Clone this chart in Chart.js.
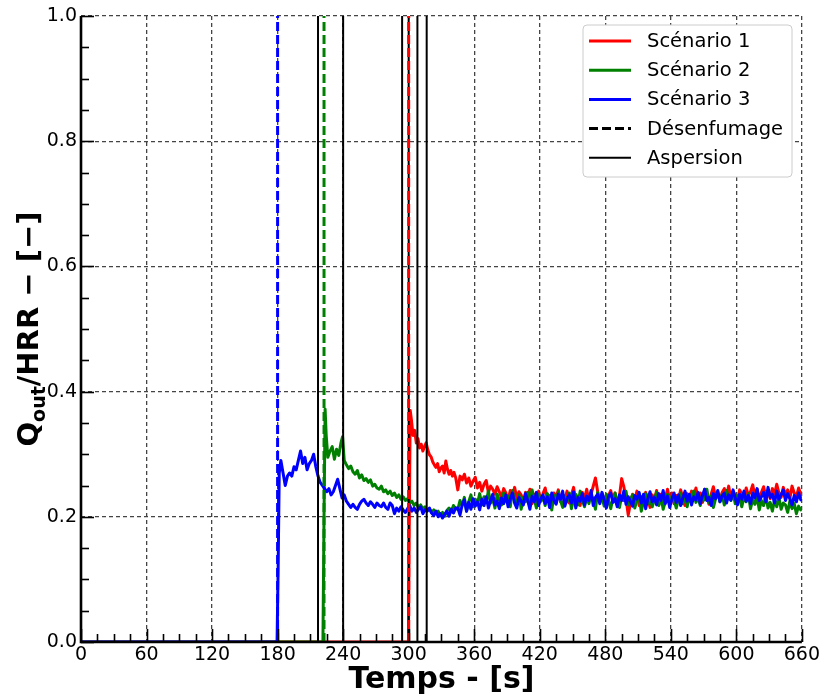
<!DOCTYPE html>
<html>
<head>
<meta charset="utf-8">
<script src="https://cdn.jsdelivr.net/npm/chart.js@4.4.0/dist/chart.umd.min.js"></script>
<style>
html,body{margin:0;padding:0;background:#ffffff;}
#wrap{width:822px;height:698px;position:relative;}
</style>
</head>
<body>
<div id="wrap"><canvas id="c" width="822" height="698"></canvas></div>
<script>
// ---------- DATA ----------
const seriesNames = ['Scénario 1', 'Scénario 2', 'Scénario 3'];
const seriesColors = ['#ff0000', '#008000', '#0000ff'];
const xMajorTicks = [0, 60, 120, 180, 240, 300, 360, 420, 480, 540, 600, 660];
const yMajorTicks = [0.0, 0.2, 0.4, 0.6, 0.8, 1.0];
const xTitle = 'Temps - [s]';

// Scenario 1 (red) onset
const red_t = [0, 299.8, 300.6, 301.4, 302.5, 304, 305.5, 307, 308.5, 310, 311.5, 313, 314.5, 316, 317.5, 319, 320.5, 322, 323.5, 325, 326.5, 328, 329.5, 331, 332.5, 334, 335.5, 337, 338.5, 340, 341.5, 343];
const red_v = [0, 0, 0.2, 0.37, 0.355, 0.33, 0.338, 0.318, 0.325, 0.31, 0.316, 0.305, 0.312, 0.318, 0.307, 0.299, 0.296, 0.288, 0.283, 0.279, 0.285, 0.272, 0.278, 0.281, 0.27, 0.289, 0.276, 0.268, 0.274, 0.265, 0.271, 0.263];

// Scenario 2 (green) onset
const green_t = [0, 221.5, 222.5, 223.5, 224.5, 226, 228, 230, 232, 234, 236, 238, 239.5, 241, 243, 245, 247, 249, 251, 253, 255, 257, 259, 261, 263, 265, 267, 269, 271, 273, 275, 277, 279, 281, 283, 285, 287, 289, 291, 293, 295, 297, 299, 301, 303, 305, 307, 309, 311, 313, 315, 317, 319, 321, 323, 325, 327, 329, 331, 333, 335, 337, 339, 341, 343];
const green_v = [0, 0, 0.2, 0.372, 0.33, 0.295, 0.305, 0.312, 0.292, 0.308, 0.298, 0.318, 0.328, 0.29, 0.283, 0.277, 0.281, 0.272, 0.268, 0.274, 0.262, 0.267, 0.258, 0.261, 0.255, 0.259, 0.249, 0.252, 0.246, 0.244, 0.249, 0.24, 0.243, 0.237, 0.241, 0.234, 0.238, 0.231, 0.235, 0.228, 0.232, 0.226, 0.229, 0.222, 0.225, 0.218, 0.222, 0.215, 0.219, 0.212, 0.216, 0.21, 0.213, 0.207, 0.211, 0.205, 0.209, 0.203, 0.207, 0.201, 0.21, 0.214, 0.208, 0.218, 0.213];

// Scenario 3 (blue) onset
const blue_t = [0, 179.5, 180.5, 181.5, 183, 185, 187, 189, 191, 193, 195, 197, 199, 201, 203, 205, 207, 209, 211, 213, 215, 217, 219, 221, 223, 225, 227, 229, 231, 233, 235, 237, 239, 241, 243, 245, 247, 249, 251, 253, 255, 257, 259, 261, 263, 265, 267, 269, 271, 273, 275, 277, 279, 281, 283, 285, 287, 289, 291, 293, 295, 297, 299, 301, 303, 305, 307, 309, 311, 313, 315, 317, 319, 321, 323, 325, 327, 329, 331, 333, 335, 337, 339, 341, 343];
const blue_v = [0, 0, 0.12, 0.27, 0.29, 0.27, 0.25, 0.265, 0.27, 0.265, 0.28, 0.275, 0.29, 0.305, 0.285, 0.295, 0.275, 0.285, 0.29, 0.30, 0.28, 0.265, 0.255, 0.25, 0.245, 0.24, 0.245, 0.235, 0.24, 0.25, 0.26, 0.245, 0.23, 0.235, 0.225, 0.22, 0.215, 0.22, 0.215, 0.212, 0.22, 0.225, 0.228, 0.222, 0.218, 0.224, 0.22, 0.215, 0.222, 0.218, 0.216, 0.222, 0.215, 0.212, 0.222, 0.218, 0.205, 0.214, 0.209, 0.216, 0.211, 0.207, 0.213, 0.218, 0.209, 0.214, 0.207, 0.212, 0.216, 0.205, 0.211, 0.209, 0.214, 0.206, 0.202, 0.209, 0.2, 0.205, 0.198, 0.204, 0.209, 0.201, 0.212, 0.206, 0.214];

// Shared tail time grid (s)
const tail_t = [
  345, 347, 349, 351, 353, 355, 357, 359, 361, 363,
  365, 367, 369, 371, 373, 375, 377, 379, 381, 383,
  385, 387, 389, 391, 393, 395, 397, 399, 401, 403,
  405, 407, 409, 411, 413, 415, 417, 419, 421, 423,
  425, 427, 429, 431, 433, 435, 437, 439, 441, 443,
  445, 447, 449, 451, 453, 455, 457, 459, 461, 463,
  465, 467, 469, 471, 473, 475, 477, 479, 481, 483,
  485, 487, 489, 491, 493, 495, 497, 499, 501, 503,
  505, 507, 509, 511, 513, 515, 517, 519, 521, 523,
  525, 527, 529, 531, 533, 535, 537, 539, 541, 543,
  545, 547, 549, 551, 553, 555, 557, 559, 561, 563,
  565, 567, 569, 571, 573, 575, 577, 579, 581, 583,
  585, 587, 589, 591, 593, 595, 597, 599, 601, 603,
  605, 607, 609, 611, 613, 615, 617, 619, 621, 623,
  625, 627, 629, 631, 633, 635, 637, 639, 641, 643,
  645, 647, 649, 651, 653, 655, 657, 659, 660];

const red_tail = [
  0.243, 0.265, 0.259, 0.268, 0.254, 0.262, 0.249, 0.257, 0.263, 0.246,
  0.255, 0.241, 0.252, 0.258, 0.239, 0.249, 0.244, 0.236, 0.248, 0.24,
  0.231, 0.245, 0.238, 0.226, 0.242, 0.233, 0.247, 0.229, 0.24, 0.235,
  0.224, 0.239, 0.232, 0.244, 0.221, 0.236, 0.228, 0.241, 0.225, 0.237,
  0.246, 0.227, 0.234, 0.219, 0.238, 0.231, 0.243, 0.224, 0.236, 0.228,
  0.241, 0.222, 0.235, 0.247, 0.226, 0.233, 0.218, 0.239, 0.229, 0.244,
  0.225, 0.236, 0.249, 0.262, 0.241, 0.223, 0.237, 0.228, 0.216, 0.234,
  0.242, 0.226, 0.238, 0.219, 0.233, 0.261, 0.248, 0.229, 0.203, 0.221,
  0.236, 0.227, 0.241, 0.218, 0.232, 0.224, 0.239, 0.229, 0.215, 0.235,
  0.228, 0.242, 0.222, 0.236, 0.219, 0.231, 0.244, 0.226, 0.238, 0.221,
  0.234, 0.227, 0.243, 0.23, 0.218, 0.237, 0.225, 0.241, 0.232, 0.246,
  0.229, 0.238, 0.223, 0.244, 0.233, 0.22, 0.236, 0.248, 0.231, 0.24,
  0.226, 0.239, 0.245, 0.232, 0.249, 0.228, 0.241, 0.235, 0.222, 0.243,
  0.237, 0.229, 0.246, 0.234, 0.24, 0.251, 0.232, 0.244, 0.227, 0.239,
  0.248, 0.233, 0.242, 0.229, 0.245, 0.236, 0.252, 0.238, 0.231, 0.247,
  0.235, 0.243, 0.229, 0.249, 0.238, 0.232, 0.246, 0.236, 0.241];

const green_tail = [
  0.212, 0.226, 0.218, 0.231, 0.209, 0.224, 0.235, 0.216, 0.228, 0.221,
  0.237, 0.219, 0.232, 0.224, 0.241, 0.222, 0.229, 0.214, 0.236, 0.227,
  0.219, 0.238, 0.225, 0.233, 0.216, 0.242, 0.228, 0.221, 0.235, 0.212,
  0.231, 0.224, 0.239, 0.217, 0.243, 0.228, 0.214, 0.236, 0.225, 0.232,
  0.218, 0.237, 0.229, 0.211, 0.234, 0.222, 0.24, 0.226, 0.215, 0.233,
  0.224, 0.238, 0.213, 0.229, 0.236, 0.219, 0.241, 0.227, 0.216, 0.232,
  0.221, 0.235, 0.228, 0.212, 0.239, 0.224, 0.231, 0.217, 0.236, 0.226,
  0.213, 0.23, 0.238, 0.222, 0.215, 0.233, 0.226, 0.241, 0.219, 0.228,
  0.235, 0.214, 0.227, 0.232, 0.209, 0.224, 0.237, 0.221, 0.23, 0.216,
  0.228, 0.239, 0.218, 0.231, 0.212, 0.225, 0.236, 0.22, 0.233, 0.227,
  0.214, 0.229, 0.238, 0.221, 0.232, 0.216, 0.235, 0.226, 0.241, 0.223,
  0.231, 0.218, 0.237, 0.227, 0.244, 0.222, 0.233, 0.215, 0.229, 0.238,
  0.224, 0.236, 0.219, 0.242, 0.23, 0.226, 0.239, 0.221, 0.234, 0.228,
  0.216, 0.231, 0.224, 0.237, 0.213, 0.228, 0.22, 0.232, 0.211, 0.226,
  0.218, 0.234, 0.214, 0.223, 0.209, 0.227, 0.216, 0.231, 0.212, 0.222,
  0.219, 0.207, 0.225, 0.213, 0.221, 0.205, 0.217, 0.211, 0.214];

const blue_tail = [
  0.214, 0.203, 0.219, 0.227, 0.209, 0.223, 0.212, 0.229, 0.217, 0.224,
  0.211, 0.228, 0.218, 0.232, 0.214, 0.226, 0.236, 0.219, 0.225, 0.213,
  0.23, 0.221, 0.235, 0.216, 0.228, 0.238, 0.222, 0.214, 0.231, 0.225,
  0.219, 0.237, 0.226, 0.212, 0.233, 0.224, 0.239, 0.218, 0.229, 0.235,
  0.221, 0.232, 0.215, 0.238, 0.226, 0.22, 0.236, 0.228, 0.241, 0.217,
  0.229, 0.235, 0.222, 0.24, 0.214, 0.231, 0.225, 0.237, 0.219, 0.233,
  0.226, 0.242, 0.218, 0.231, 0.236, 0.221, 0.239, 0.227, 0.214, 0.232,
  0.238, 0.223, 0.229, 0.216, 0.235, 0.226, 0.241, 0.22, 0.232, 0.225,
  0.217, 0.234, 0.228, 0.239, 0.222, 0.236, 0.213, 0.229, 0.24, 0.224,
  0.231, 0.219, 0.237, 0.226, 0.242, 0.221, 0.233, 0.215, 0.228, 0.238,
  0.223, 0.235, 0.218, 0.23, 0.241, 0.225, 0.236, 0.219, 0.232, 0.227,
  0.239, 0.221, 0.234, 0.244, 0.226, 0.231, 0.218, 0.237, 0.229, 0.242,
  0.224, 0.233, 0.238, 0.222, 0.235, 0.227, 0.243, 0.23, 0.219, 0.236,
  0.228, 0.241, 0.225, 0.234, 0.221, 0.238, 0.23, 0.245, 0.226, 0.232,
  0.239, 0.224, 0.247, 0.231, 0.236, 0.222, 0.241, 0.228, 0.235, 0.243,
  0.226, 0.237, 0.229, 0.219, 0.234, 0.224, 0.238, 0.227, 0.233];

// Event times (s)
const desenfTimes = [300, 222.5, 180];   // scenario 1, 2, 3 (dashed, scenario colour)
const aspersionTimes = [217, 240, 294, 300, 308, 316.5]; // solid black

// ---------- BUILD ----------
function pts(ts, vs) { return ts.map((t, i) => ({ x: t, y: vs[i] })); }
const seriesData = [
  pts(red_t.concat(tail_t), red_v.concat(red_tail)),
  pts(green_t.concat(tail_t), green_v.concat(green_tail)),
  pts(blue_t.concat(tail_t), blue_v.concat(blue_tail))
];

const datasets = [];
seriesData.forEach((d, i) => {
  datasets.push({
    label: seriesNames[i], data: d, borderColor: seriesColors[i],
    borderWidth: 3, pointRadius: 0, tension: 0, fill: false,
    borderJoinStyle: 'round', order: 3 - i
  });
});
desenfTimes.forEach((t, i) => {
  datasets.push({
    label: 'Désenfumage', data: [{ x: t, y: 0 }, { x: t, y: 1 }],
    borderColor: seriesColors[i], borderWidth: 3, borderDash: [9, 4],
    pointRadius: 0, fill: false, order: 0
  });
});
aspersionTimes.forEach(t => {
  datasets.push({
    label: 'Aspersion', data: [{ x: t, y: 0 }, { x: t, y: 1 }],
    borderColor: '#000000', borderWidth: 2,
    pointRadius: 0, fill: false, order: 0
  });
});

const FONT = '"DejaVu Sans", "Liberation Sans", sans-serif';
const isMajorX = v => xMajorTicks.indexOf(v) >= 0;
const isMajorY = v => yMajorTicks.some(m => Math.abs(m - v) < 1e-6);

// inward tick marks + axis lines
const axesPlugin = {
  id: 'axesInward',
  afterDatasetsDraw(chart) {
    const { ctx, chartArea: ca, scales } = chart;
    const x = scales.x, y = scales.y;
    ctx.save();
    ctx.strokeStyle = '#000';
    ctx.lineWidth = 1.6;
    ctx.setLineDash([]);
    x.ticks.forEach(t => {
      const px = Math.round(x.getPixelForValue(t.value)) + 0.5;
      const L = isMajorX(t.value) ? 13 : 8;
      ctx.beginPath(); ctx.moveTo(px, ca.bottom); ctx.lineTo(px, ca.bottom - L); ctx.stroke();
    });
    y.ticks.forEach(t => {
      const py = Math.round(y.getPixelForValue(t.value)) + 0.5;
      const L = isMajorY(t.value) ? 13 : 8;
      ctx.beginPath(); ctx.moveTo(ca.left, py); ctx.lineTo(ca.left + L, py); ctx.stroke();
    });
    ctx.lineWidth = 2.6;
    ctx.beginPath();
    ctx.moveTo(ca.left, ca.top);
    ctx.lineTo(ca.left, ca.bottom);
    ctx.lineTo(ca.right, ca.bottom);
    ctx.stroke();
    ctx.restore();
  }
};

// y-axis title with subscript
const yTitlePlugin = {
  id: 'yTitle',
  afterDraw(chart) {
    const { ctx, chartArea: ca } = chart;
    ctx.save();
    ctx.translate(38, (ca.top + ca.bottom) / 2);
    ctx.rotate(-Math.PI / 2);
    const big = 'bold 29px ' + FONT, small = 'bold 19px ' + FONT;
    const parts = [['Q', big, 0], ['out', small, 7], ['/HRR − [−]', big, 0]];
    let total = 0;
    parts.forEach(p => { ctx.font = p[1]; total += ctx.measureText(p[0]).width; });
    let xx = -total / 2;
    ctx.fillStyle = '#000';
    ctx.textBaseline = 'alphabetic';
    ctx.textAlign = 'left';
    parts.forEach(p => { ctx.font = p[1]; ctx.fillText(p[0], xx, p[2]); xx += ctx.measureText(p[0]).width; });
    ctx.restore();
  }
};

// legend box
const legendPlugin = {
  id: 'boxLegend',
  afterDraw(chart) {
    const ctx = chart.ctx;
    const items = [
      { label: seriesNames[0], color: seriesColors[0], w: 3, dash: [] },
      { label: seriesNames[1], color: seriesColors[1], w: 3, dash: [] },
      { label: seriesNames[2], color: seriesColors[2], w: 3, dash: [] },
      { label: 'Désenfumage', color: '#000', w: 3, dash: [9, 4] },
      { label: 'Aspersion', color: '#000', w: 2, dash: [] }
    ];
    const bx = 583, by = 25, bw = 209, bh = 152, r = 4;
    ctx.save();
    ctx.beginPath();
    ctx.moveTo(bx + r, by);
    ctx.lineTo(bx + bw - r, by); ctx.arcTo(bx + bw, by, bx + bw, by + r, r);
    ctx.lineTo(bx + bw, by + bh - r); ctx.arcTo(bx + bw, by + bh, bx + bw - r, by + bh, r);
    ctx.lineTo(bx + r, by + bh); ctx.arcTo(bx, by + bh, bx, by + bh - r, r);
    ctx.lineTo(bx, by + r); ctx.arcTo(bx, by, bx + r, by, r);
    ctx.closePath();
    ctx.fillStyle = '#ffffff'; ctx.fill();
    ctx.lineWidth = 1; ctx.strokeStyle = '#cccccc'; ctx.stroke();
    ctx.font = '19.5px ' + FONT;
    ctx.textBaseline = 'middle';
    ctx.textAlign = 'left';
    items.forEach((it, i) => {
      const yy = 41 + i * 29.2;
      ctx.beginPath();
      ctx.setLineDash(it.dash);
      ctx.lineWidth = it.w; ctx.strokeStyle = it.color;
      ctx.moveTo(589, yy); ctx.lineTo(631, yy); ctx.stroke();
      ctx.setLineDash([]);
      ctx.fillStyle = '#000';
      ctx.fillText(it.label, 647, yy + 1);
    });
    ctx.restore();
  }
};

new Chart(document.getElementById('c'), {
  type: 'line',
  data: { datasets },
  plugins: [axesPlugin, yTitlePlugin, legendPlugin],
  options: {
    responsive: false,
    animation: false,
    layout: { padding: { top: 16, right: 20, left: 0, bottom: 0 } },
    plugins: { legend: { display: false }, tooltip: { enabled: false } },
    scales: {
      x: {
        type: 'linear', min: 0, max: 660,
        afterFit(s) { s.height = 56; },
        ticks: {
          stepSize: 15, autoSkip: false, maxRotation: 0, maxTicksLimit: 200,
          padding: 2, color: '#000', font: { family: FONT, size: 19 },
          callback: v => isMajorX(v) ? String(v) : ''
        },
        grid: {
          drawTicks: false, lineWidth: 1.3,
          color: c => (c.tick && isMajorX(c.tick.value)) ? '#444444' : 'rgba(0,0,0,0)'
        },
        border: { display: false, dash: [4, 3] },
        title: { display: true, text: xTitle, color: '#000', padding: { top: 0, bottom: 0 },
                 font: { family: FONT, size: 30, weight: 'bold' } }
      },
      y: {
        type: 'linear', min: 0, max: 1,
        afterFit(s) { s.width = 81; },
        ticks: {
          stepSize: 0.05, autoSkip: false, maxTicksLimit: 200,
          padding: 4, color: '#000', font: { family: FONT, size: 19 },
          callback: v => isMajorY(v) ? v.toFixed(1) : ''
        },
        grid: {
          drawTicks: false, lineWidth: 1.3,
          color: c => (c.tick && isMajorY(c.tick.value)) ? '#444444' : 'rgba(0,0,0,0)'
        },
        border: { display: false, dash: [4, 3] }
      }
    }
  }
});
</script>
</body>
</html>
